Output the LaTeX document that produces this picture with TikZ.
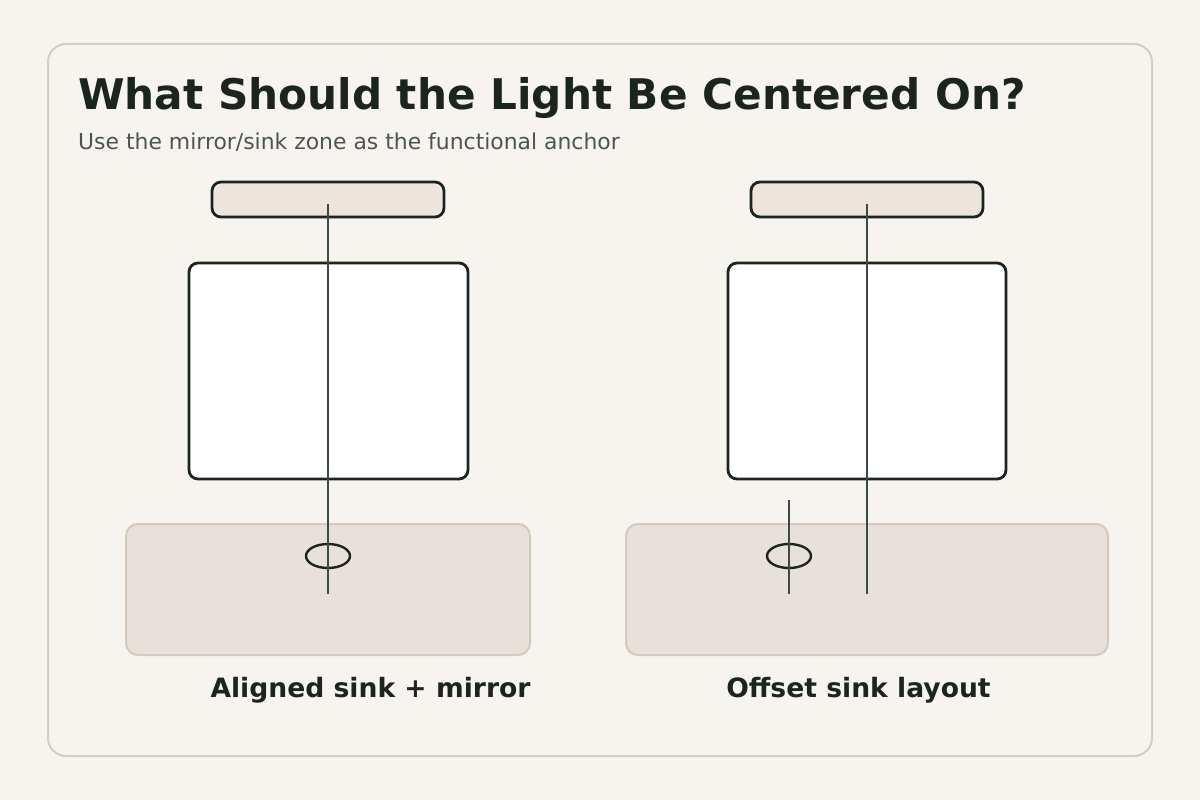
\documentclass[tikz,border=0pt]{standalone}
\usepackage{fontspec}
\setmainfont{DejaVu Sans}
\definecolor{bgc}{HTML}{F7F4EF}
\definecolor{cardline}{HTML}{D6CCC1}
\definecolor{ink}{HTML}{1C2420}
\definecolor{rod}{HTML}{3D4944}
\definecolor{fixfill}{HTML}{EDE5DB}
\definecolor{vanfill}{HTML}{E8E1DB}
\definecolor{vanline}{HTML}{D4C9BB}
\definecolor{subc}{HTML}{4B5550}
\tikzset{
  fixture/.style={draw=ink, line width=2.8pt, fill=fixfill, rounded corners=9pt, inner sep=0pt, outer sep=0pt, minimum width=232pt, minimum height=35pt},
  mirrorbox/.style={draw=ink, line width=2.8pt, fill=white, rounded corners=9pt, inner sep=0pt, outer sep=0pt},
  vanity/.style={draw=vanline, line width=2pt, fill=vanfill, rounded corners=12pt, inner sep=0pt, outer sep=0pt},
  sinkbowl/.style={draw=ink, line width=2.4pt, ellipse, inner sep=0pt, minimum width=44pt, minimum height=24pt},
  axis/.style={draw=rod, line width=2.2pt},
  caption/.style={font=\bfseries\fontsize{26.6}{31}\selectfont, text=ink, anchor=base, inner sep=0pt}
}
\usetikzlibrary{shapes.geometric}
\begin{document}
\begin{tikzpicture}[x=1pt,y=-1pt]
\useasboundingbox (0,0) rectangle (1200,800);
\fill[bgc] (0,0) rectangle (1200,800);
\draw[cardline, line width=2pt, fill=bgc, rounded corners=18pt] (48,44) rectangle (1152,756);
\node[anchor=base west, inner sep=0pt, text=ink, font=\bfseries\fontsize{42.2}{50}\selectfont] (title) at (78,110) {What Should the Light Be Centered On?};
\node[anchor=base west, inner sep=0pt, text=subc, font=\fontsize{21.9}{26}\selectfont] (subtitle) at (78,149) {Use the mirror/sink zone as the functional anchor};
% left
\node[vanity, minimum width=404pt, minimum height=131pt] (vanL) at (328,589.5) {};
\node[mirrorbox, minimum width=279pt, minimum height=216pt] (mirL) at (328.5,371) {};
\node[fixture] (fixL) at (328,199.5) {};
\node[sinkbowl] (sinkL) at (328,556) {};
\coordinate (topL) at (328,204);
\coordinate (botL) at (328,594);
\draw[axis] (topL) -- (botL);
\node[caption] (capL) at (370.5,697) {Aligned sink + mirror};
% right
\node[vanity, minimum width=482pt, minimum height=131pt] (vanR) at (867,589.5) {};
\node[mirrorbox, minimum width=278pt, minimum height=216pt] (mirR) at (867,371) {};
\node[fixture] (fixR) at (867,199.5) {};
\node[sinkbowl] (sinkR) at (789,556) {};
\coordinate (topR) at (867,204);
\coordinate (botR) at (867,594);
\coordinate (stopR) at (789,500);
\coordinate (sbotR) at (789,594);
\draw[axis] (topR) -- (botR);
\draw[axis] (stopR) -- (sbotR);
\node[caption] (capR) at (858.5,697) {Offset sink layout};
\end{tikzpicture}
\end{document}
